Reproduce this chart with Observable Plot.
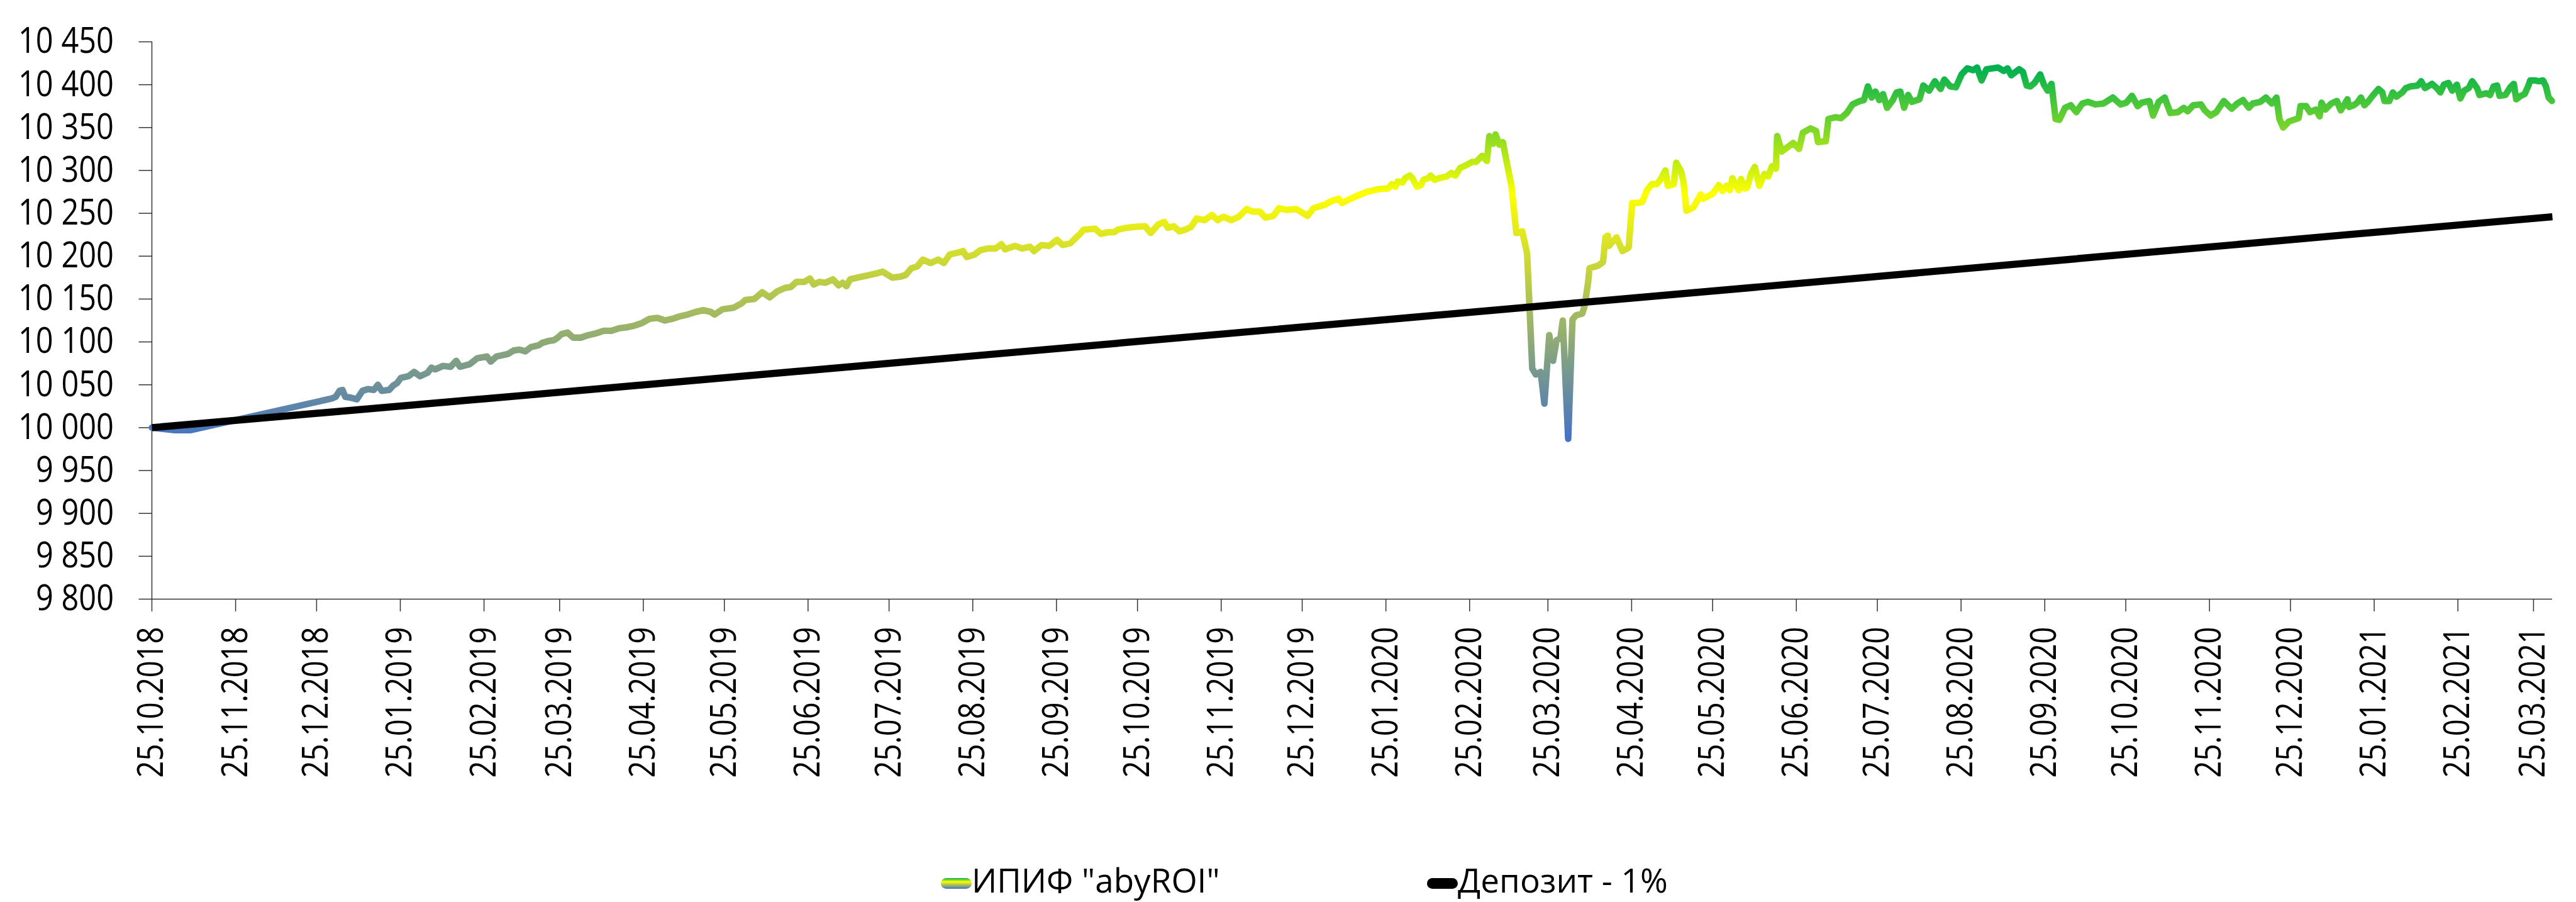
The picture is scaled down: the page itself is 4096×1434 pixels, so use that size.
<!DOCTYPE html>
<html>
<head>
<meta charset="utf-8">
<script src="https://cdn.jsdelivr.net/npm/d3@7"></script>
<script src="https://cdn.jsdelivr.net/npm/@observablehq/plot@0.6"></script>
<style>
  html, body { margin: 0; padding: 0; background: #fff; width: 4096px; height: 1434px; overflow: hidden; }
  #chart { position: relative; width: 4096px; height: 1434px; }
  #legend { position: absolute; left: 0; top: 1290px; width: 4096px; height: 144px;
            font-family: 'Open Sans', sans-serif; font-size: 53px; color: #000; }
  .sw { position: absolute; top: 106px; width: 49px; height: 17px; border-radius: 8.5px; }
  .lt { position: absolute; top: 73px; line-height: 72px; white-space: nowrap; }
  svg [aria-label$="-axis tick"] { stroke: #333; stroke-width: 1.5px; }
</style>
</head>
<body>
<div id="chart"></div>
<script>
// ---------- data ----------
const seriesNames = ['ИПИФ "abyROI"', "Депозит - 1%"];
const startDate = "25.10.2018";          // day 0
const endDate = "01.04.2021";            // axis end

// ИПИФ "abyROI": [days since 25.10.2018, value]
const fundPoints = [
  [0,10000],[8.5,9997],[14.2,9997],[66.6,10034],[68.1,10036],[69.5,10043],[70.6,10044],[71.6,10036],[73.7,10035],[75.9,10033],
  [78,10043],[80.1,10045],[82.2,10044],[83.7,10050],[85.1,10043],[87.9,10044],[89.3,10049],[90.8,10052],[92.2,10058],[95,10060],
  [97.1,10065],[99.3,10060],[102.1,10064],[103.5,10070],[104.9,10068],[107.8,10072],[110.6,10071],[112.7,10078],[114.1,10071],[117.7,10074],
  [120.5,10081],[124.1,10083],[125.5,10077],[127.6,10083],[131.9,10086],[134,10090],[136.1,10091],[138.3,10089],[140.4,10094],[143.2,10096],
  [144.6,10099],[146.8,10101],[148.9,10102],[150.3,10105],[151.7,10109],[153.9,10111],[156,10105],[158.8,10105],[161.7,10108],[164.5,10110],
  [167.3,10113],[170.2,10113],[173,10116],[175.8,10117],[178.7,10119],[181.5,10122],[184.3,10127],[187.2,10128],[190,10125],[192.8,10127],
  [195.7,10130],[198.5,10132],[201.4,10135],[204.2,10137],[207,10135],[208.4,10132],[211.3,10138],[215.5,10140],[218.4,10145],[219.8,10149],
  [223.1,10150],[226,10158],[228.8,10152],[231.6,10159],[234.5,10163],[236.6,10164],[238.7,10170],[241.6,10170],[243.7,10174],[245.1,10167],
  [247.2,10170],[249.4,10169],[252.2,10173],[254.3,10166],[255.8,10169],[257.2,10165],[258.6,10173],[261.4,10175],[265.7,10178],[268.5,10180],
  [270.6,10182],[274.2,10175],[277,10176],[279.1,10178],[281.3,10186],[283.4,10188],[285.5,10196],[288.4,10192],[291.2,10196],[293.3,10192],
  [295.5,10202],[298.3,10204],[300.4,10206],[301.8,10199],[304.7,10202],[306.8,10207],[309.6,10209],[312.5,10209],[314.6,10214],[316,10208],
  [319.6,10212],[322.4,10209],[325.2,10211],[326.7,10206],[329.5,10213],[332.3,10212],[335.2,10219],[337.3,10213],[340.1,10215],[343.7,10226],
  [345.1,10231],[349.3,10232],[351.5,10226],[354.3,10228],[356.4,10228],[357.8,10231],[360.7,10233],[363.5,10234],[367.8,10235],[369.9,10227],
  [372.7,10237],[374.9,10240],[376.3,10233],[378.4,10235],[380.5,10229],[382.7,10231],[384.8,10234],[386.9,10244],[389.8,10242],[392.6,10248],
  [394.7,10242],[396.8,10246],[399.7,10242],[402.5,10246],[405.4,10255],[407.5,10252],[410.3,10252],[412.4,10245],[415.3,10247],[417.4,10256],
  [420.2,10254],[423.8,10255],[425.9,10251],[428,10247],[430.2,10256],[434.4,10260],[436.6,10264],[439.4,10267],[440.8,10262],[442.6,10265],
  [446,10270],[450,10275],[454,10278],
  [457.8,10279],[459.2,10284],[460.5,10281],[461.4,10287],[463.2,10286],[464.1,10291],[465.9,10294],[466.8,10291],[468.5,10281],[470,10283],
  [470.9,10289],[472.7,10291],[473.6,10294],[475,10289],[476.8,10291],[479.5,10293],[481.3,10297],[482.7,10294],[484.5,10303],[486.7,10306],
  [489,10310],[490.4,10310],[492.6,10317],[494.4,10311],[495.3,10340],[496.7,10331],[497.6,10342],[499,10330],[500.3,10333],[502.1,10304],
  [503.5,10282],[505.3,10227],[505.7,10227],[507.5,10229],[509.3,10203],[511.2,10069],[512.5,10062],[514.3,10065],[515.7,10028],[517.5,10108],
  [518.9,10078],[520.2,10102],[521.6,10104],[522.5,10125],[524.5,9987],[526.1,10126],[527.4,10131],[529.7,10133],[530.6,10142],[531.9,10170],
  [532.4,10186],[535.6,10189],[537.4,10193],[538.3,10222],[539.2,10224],[539.6,10212],[542.4,10222],[544.6,10206],[546.9,10210],[548.2,10262],
  [550,10262],[551.9,10263],[553.7,10277],[555.5,10284],[557.3,10284],[558.6,10289],[560.5,10300],[561.4,10282],[563.6,10284],[564.5,10309],
  [566.3,10299],[567.2,10287],[568.3,10253],[570.9,10257],[573.6,10272],[574.5,10267],[578.1,10273],[580.3,10283],[581.7,10276],[583,10282],
  [584.4,10277],[585.3,10291],[587.6,10277],[588.5,10290],[589.8,10279],
  [590.8,10280],[592.2,10296],[593.6,10304],[595.3,10282],[597.2,10296],[598.6,10293],[600,10305],[601.4,10302],[601.9,10340],[603.6,10322],
  [605.7,10327],[607.8,10332],[610,10325],[611.4,10344],[614.2,10349],[616.3,10346],[617,10333],[619.9,10334],[620.9,10360],[623.4,10362],
  [625.5,10361],[627.7,10367],[629.8,10377],[632.6,10381],[634,10382],[635.5,10398],[636.9,10385],[638.3,10392],[639.7,10382],[641.1,10389],
  [642.6,10373],[644.7,10382],[646.1,10391],[647.5,10392],[648.9,10373],[650.4,10388],[651.8,10380],[654.6,10383],[656,10399],[658.2,10393],
  [660.3,10404],[662.4,10395],[663.8,10406],[666,10398],[668.1,10397],[670.2,10412],[672.3,10419],[674.5,10417],[675.9,10420],[677.6,10405],
  [679.4,10418],[681.6,10419],[683.7,10420],[685.8,10416],[687.2,10419],[688.6,10411],[691.5,10418],[692.9,10415],[694.3,10399],[695.7,10398],
  [697.2,10402],[699.3,10412],[700.7,10400],[702.1,10393],[703.5,10401],[705,10360],[706.4,10359],[708.5,10373],[710.6,10376],[712.7,10368],
  [714.9,10378],[717,10380],[719.8,10377],[722.7,10378],[726.2,10385],[729.1,10377],[731.2,10379],[733.3,10387],[735.4,10375],[736.9,10379],
  [739.7,10381],[741.1,10364],[743.2,10380],[745.4,10385],[747.5,10367],[750.3,10368],[752.5,10373],[753.9,10369],[756,10376],[758.8,10377],
  [760.3,10370],[762.4,10364],[764.5,10368],[767.3,10381],[770.2,10372],[772.3,10378],[774.4,10382],[776.6,10373],[778,10378],[780.8,10380],
  [782.9,10385],[785.1,10378],[786.8,10385],[787.9,10360],[789.3,10350],[791.4,10357],[795,10361],[795.7,10375],[797.8,10375],[799.2,10368],
  [801.4,10371],[802.8,10363],[803.5,10379],[804.9,10371],[807.1,10378],[809.2,10381],[810.6,10370],[813.1,10383],
  [813.7,10374],[815.4,10376],[816.7,10379],[818.1,10385],[819.4,10376],[820.7,10380],[822.4,10387],[824.6,10395],[826,10391],[826.8,10381],
  [828.6,10381],[829.9,10391],[831.2,10386],[833.4,10391],[834.7,10396],[836.5,10398],[839.1,10399],[840.4,10404],[841.8,10396],[844.4,10401],
  [846.2,10396],[847.5,10391],[848.8,10400],[850.5,10402],[851.9,10393],[853.6,10400],[854.9,10384],[856.3,10393],[858,10396],[859.3,10404],
  [861.1,10396],[862,10388],[864.6,10390],[865.9,10388],[867.2,10398],[868.5,10399],[869.4,10387],[871.6,10388],[873.4,10397],[874.7,10401],
  [875.6,10383],[877.3,10387],[878.7,10389],[880,10398],[880.8,10405],[882.6,10405],[883.9,10404],[885.5,10405],[886.6,10398],[887.6,10385],
  [888.8,10381]
];

// Депозит - 1%: [days since 25.10.2018, value]
const depositPoints = [[0,10000],[139,10038],[591,10163],[813,10225],[889,10246]];

const xTickLabels = [
  "25.10.2018","25.11.2018","25.12.2018","25.01.2019","25.02.2019","25.03.2019","25.04.2019","25.05.2019",
  "25.06.2019","25.07.2019","25.08.2019","25.09.2019","25.10.2019","25.11.2019","25.12.2019","25.01.2020",
  "25.02.2020","25.03.2020","25.04.2020","25.05.2020","25.06.2020","25.07.2020","25.08.2020","25.09.2020",
  "25.10.2020","25.11.2020","25.12.2020","25.01.2021","25.02.2021","25.03.2021"
];
const yTicks = [9800,9850,9900,9950,10000,10050,10100,10150,10200,10250,10300,10350,10400,10450];

const gradientStops = [
  {offset: "0%", color: "#4472C4"},
  {offset: "66%", color: "#FFFF00"},
  {offset: "100%", color: "#00B050"}
];

// ---------- build ----------
const parseDMY = s => { const [d, m, y] = s.split(".").map(Number); return new Date(Date.UTC(y, m - 1, d)); };
const t0 = parseDMY(startDate).getTime();
const DAY = 864e5;
const toDate = d => new Date(t0 + d * DAY);

const fund = fundPoints.map(([d, v]) => ({date: toDate(d), value: v}));
const deposit = depositPoints.map(([d, v]) => ({date: toDate(d), value: v}));
const xTicks = xTickLabels.map(parseDMY);

const ruLocale = d3.formatLocale({decimal: ",", thousands: "\u00a0", grouping: [3], currency: ["", ""]});
const fmtY = ruLocale.format(",d");
const fmtX = d3.utcFormat("%d.%m.%Y");

const svg = Plot.plot({
  width: 4096,
  height: 1290,
  marginLeft: 241,
  marginRight: 38,
  marginTop: 66,
  marginBottom: 338,
  style: {fontFamily: "'Open Sans', sans-serif", fontSize: "56px", color: "#000", background: "transparent", overflow: "visible"},
  x: {type: "utc", domain: [toDate(0), parseDMY(endDate)], ticks: xTicks, tickFormat: fmtX,
      tickRotate: -90, tickSize: 20, tickPadding: 24, label: null},
  y: {domain: [yTicks[0], yTicks[yTicks.length - 1]], ticks: yTicks, tickFormat: fmtY,
      tickSize: 20.5, tickPadding: 40, label: null},
  marks: [
    Plot.ruleX([toDate(0)], {stroke: "#333", strokeWidth: 1.5}),
    Plot.ruleY([yTicks[0]], {stroke: "#333", strokeWidth: 1.5}),
    Plot.line(fund, {x: "date", y: "value", stroke: "url(#fundGradient)", strokeWidth: 10.3,
                     strokeLinejoin: "round", strokeLinecap: "round"}),
    Plot.line(deposit, {x: "date", y: "value", stroke: "#000", strokeWidth: 11.4, strokeLinecap: "butt"})
  ]
});

// vertical value gradient over the fund line's extent (like the Excel gradient line)
const defs = d3.select(svg).insert("defs", ":first-child");
const lg = defs.append("linearGradient").attr("id", "fundGradient")
  .attr("x1", 0).attr("y1", 1).attr("x2", 0).attr("y2", 0);
gradientStops.forEach(s => lg.append("stop").attr("offset", s.offset).attr("stop-color", s.color));

const chart = document.getElementById("chart");
chart.appendChild(svg);

// slightly condensed axis text, as in the reference
function condense(sel, k) {
  d3.select(svg).selectAll(sel).each(function() {
    const w = this.getComputedTextLength();
    this.setAttribute("textLength", (w * k).toFixed(1));
    this.setAttribute("lengthAdjust", "spacingAndGlyphs");
  });
}
condense('[aria-label="y-axis tick label"] text, [aria-label="y-axis"] text', 0.87);
condense('[aria-label="x-axis tick label"] text, [aria-label="x-axis"] text', 0.84);

// legend below the chart
const legend = d3.select(chart).append("div").attr("id", "legend");
const legendItems = [
  {name: seriesNames[0], swatch: `linear-gradient(to top, ${gradientStops.map(s => s.color + " " + s.offset).join(", ")})`, sx: 1496, tx: 1545},
  {name: seriesNames[1], swatch: "#000", sx: 2269, tx: 2318}
];
legendItems.forEach(it => {
  legend.append("div").attr("class", "sw").style("left", it.sx + "px").style("background", it.swatch);
  legend.append("div").attr("class", "lt").style("left", it.tx + "px").text(it.name);
});
</script>
</body>
</html>
